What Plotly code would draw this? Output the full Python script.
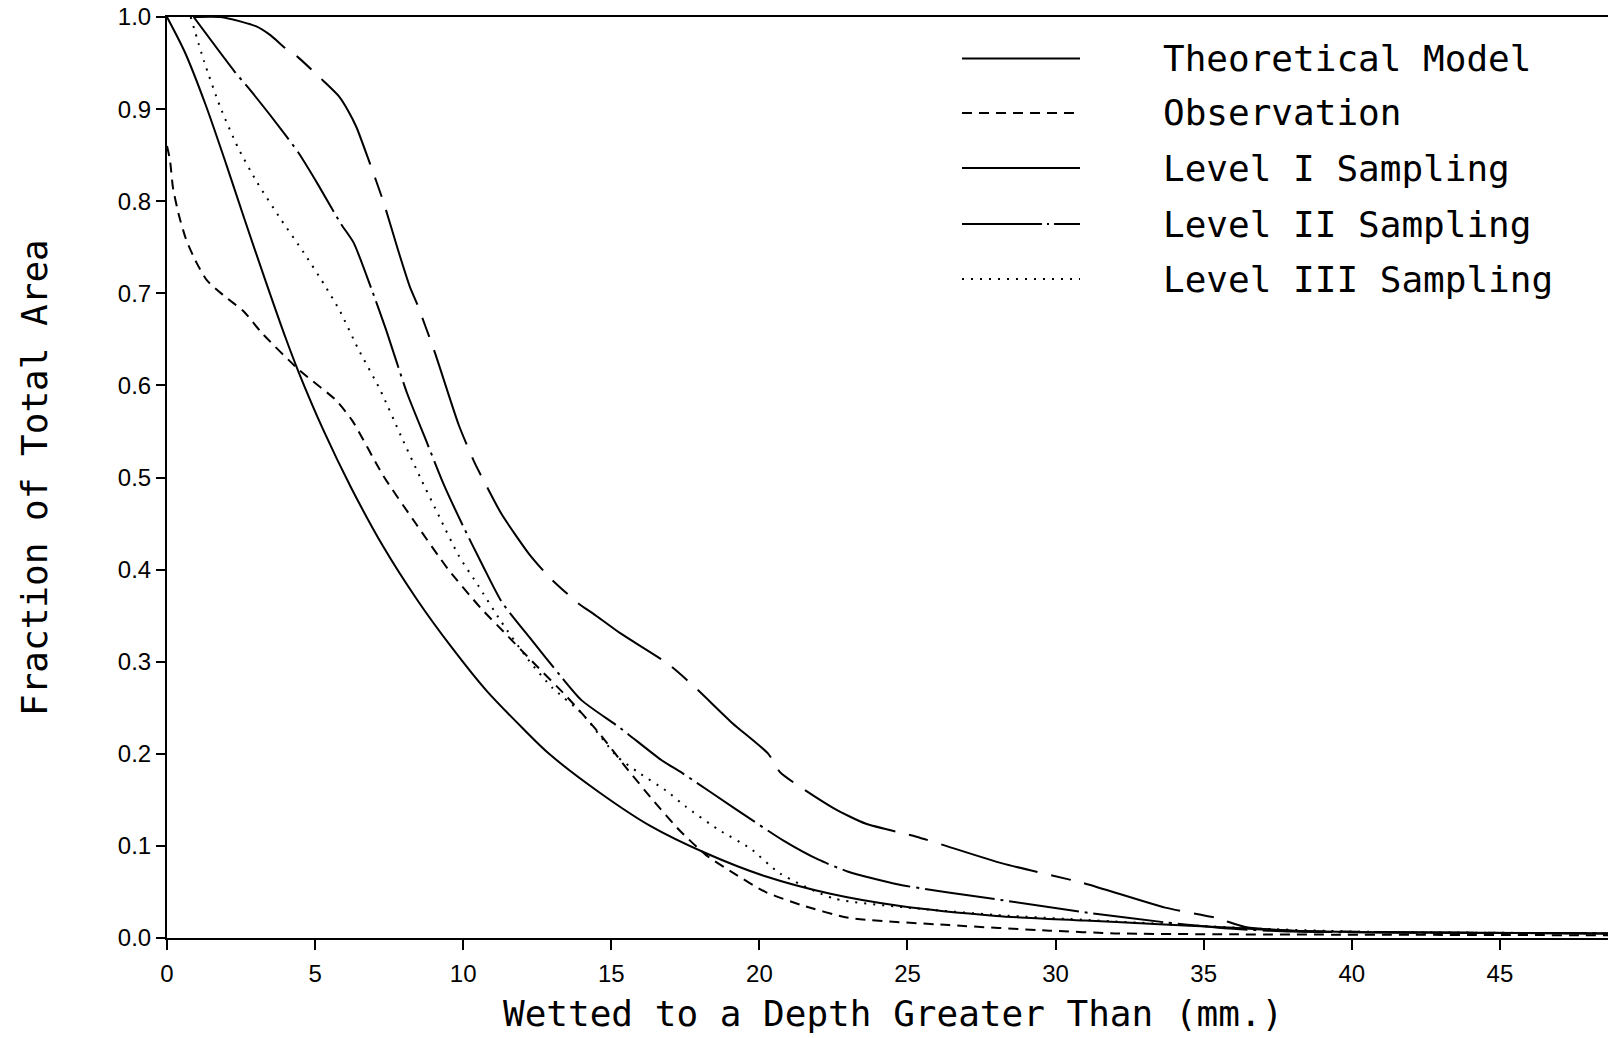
import plotly.graph_objects as go

# ---------------- data ----------------
theory_x = [0, 0.6, 1.3, 2.0, 2.6, 3.3, 4.0, 4.45, 5.3, 6.2, 7.3, 8.45, 9.6, 10.8, 12.0,
            12.9, 14.6, 16.3, 18.2, 20.2, 22.4, 24.7, 28.0, 31.0, 33.5, 36.0, 38.0, 42.0, 48.65]
theory_y = [1.0, 0.962, 0.905, 0.84, 0.782, 0.716, 0.652, 0.614, 0.55, 0.49, 0.425, 0.367,
            0.316, 0.268, 0.228, 0.2, 0.158, 0.122, 0.092, 0.067, 0.048, 0.035, 0.024, 0.019,
            0.015, 0.011, 0.008, 0.006, 0.005]

obs_x = [0, 0.1, 0.2, 0.4, 0.65, 1.0, 1.35, 1.9, 2.6, 3.2, 4.45, 5.7, 6.25, 7.3, 8.4, 9.5,
         10.6, 11.5, 12.4, 13.5, 14.6, 15.5, 16.4, 17.3, 18.2, 19.1, 20.2, 21.4, 23.0, 26.4,
         29.8, 32.0, 36.0, 48.65]
obs_y = [0.86, 0.845, 0.815, 0.785, 0.758, 0.733, 0.714, 0.698, 0.68, 0.657, 0.617, 0.584,
         0.562, 0.502, 0.45, 0.40, 0.358, 0.328, 0.298, 0.262, 0.222, 0.185, 0.15, 0.117,
         0.09, 0.071, 0.05, 0.036, 0.022, 0.014, 0.008, 0.005, 0.004, 0.003]

lev1_x = [0.9, 1.8, 2.5, 3.0, 3.5, 4.0, 4.4, 5.3, 5.8, 6.1, 6.4, 6.85, 7.3, 7.8, 8.2, 8.45,
          9.05, 9.85, 10.4, 10.8, 11.3, 12.2, 12.9, 13.9, 14.4, 15.3, 16.9, 17.8, 19.1, 20.3,
          20.7, 22.5, 23.6, 25.3, 28.2, 30.9, 33.7, 35.4, 36.4, 38.0, 48.65]
lev1_y = [1.0, 1.0, 0.995, 0.99, 0.98, 0.966, 0.957, 0.93, 0.914, 0.899, 0.88, 0.841, 0.80,
          0.747, 0.707, 0.688, 0.635, 0.557, 0.515, 0.49, 0.46, 0.418, 0.392, 0.363, 0.352,
          0.331, 0.298, 0.273, 0.233, 0.20, 0.18, 0.141, 0.124, 0.11, 0.081, 0.06, 0.033,
          0.022, 0.012, 0.008, 0.005]

lev2_x = [0.9, 2.3, 2.75, 3.95, 4.45, 5.1, 5.86, 6.3, 6.9, 7.4, 8.1, 8.75, 9.35, 10.0, 10.65,
          11.3, 12.3, 13.3, 14.0, 15.3, 16.7, 17.4, 19.2, 20.8, 22.0, 23.0, 24.7, 28.0, 31.2,
          33.7, 36.0, 38.0, 48.65]
lev2_y = [1.0, 0.94, 0.923, 0.874, 0.852, 0.818, 0.776, 0.755, 0.705, 0.66, 0.592, 0.54,
          0.492, 0.447, 0.405, 0.365, 0.324, 0.284, 0.258, 0.228, 0.193, 0.179, 0.14, 0.106,
          0.085, 0.072, 0.058, 0.042, 0.027, 0.017, 0.01, 0.007, 0.005]

lev3_x = [0.8, 1.25, 1.8, 2.4, 3.05, 3.85, 4.6, 5.3, 5.85, 6.45, 7.2, 7.9, 8.55, 9.2, 9.85,
          10.5, 11.25, 12.2, 13.0, 14.0, 15.2, 15.95, 16.85, 17.5, 18.6, 19.7, 20.7, 22.5,
          25.0, 28.0, 32.0, 35.0, 37.0, 40.0, 48.65]
lev3_y = [1.0, 0.952, 0.902, 0.858, 0.82, 0.78, 0.745, 0.71, 0.68, 0.64, 0.595, 0.545,
          0.50, 0.457, 0.415, 0.383, 0.345, 0.302, 0.272, 0.244, 0.197, 0.179, 0.16, 0.143,
          0.118, 0.097, 0.07, 0.043, 0.033, 0.025, 0.018, 0.013, 0.01, 0.007, 0.005]

series_names = ["Theoretical Model", "Observation", "Level I Sampling",
                "Level II Sampling", "Level III Sampling"]
series_x = [theory_x, obs_x, lev1_x, lev2_x, lev3_x]
series_y = [theory_y, obs_y, lev1_y, lev2_y, lev3_y]

x_ticks = [0, 5, 10, 15, 20, 25, 30, 35, 40, 45]
y_ticks = [0.0, 0.1, 0.2, 0.3, 0.4, 0.5, 0.6, 0.7, 0.8, 0.9, 1.0]

x_title = "Wetted to a Depth Greater Than (mm.)"
y_title = "Fraction of Total Area"

# ---------------- styles ----------------
dashes = ["solid", "10px,7px", "100px,14px,20px,14px", "70px,6px,3px,6px", "2px,7px"]
legend_dashes = ["solid", "10px,7px", "solid", "80px,5px,2px,5px", "2px,7px"]
smooth = [0.8, 0.6, 0.6, 0.6, 0.6]
FONT = "DejaVu Sans Mono"
TICKFONT = "Liberation Sans"

fig = go.Figure()
for name, xs, ys, d, s in zip(series_names, series_x, series_y, dashes, smooth):
    fig.add_trace(go.Scatter(x=xs, y=ys, mode="lines", name=name, showlegend=False,
                             line=dict(color="black", width=2, dash=d, shape="spline",
                                       smoothing=s)))

# manual legend (long sample lines like the original plotter legend)
leg_y = [0.9549, 0.8958, 0.8360, 0.7752, 0.7155]
shapes = []
annotations = []
for name, d, yy in zip(series_names, legend_dashes, leg_y):
    shapes.append(dict(type="line", xref="paper", yref="paper", x0=0.5517, x1=0.6336,
                       y0=yy, y1=yy, line=dict(color="black", width=2, dash=d)))
    annotations.append(dict(text=name, xref="paper", yref="paper", x=0.6898, y=yy,
                            xanchor="left", yanchor="middle", showarrow=False,
                            font=dict(family=FONT, size=36, color="black")))

annotations.append(dict(text=x_title, xref="paper", yref="paper", x=0.504, y=-0.0825,
                        xanchor="center", yanchor="middle", showarrow=False,
                        font=dict(family=FONT, size=36, color="black")))
annotations.append(dict(text=y_title, xref="paper", yref="paper", x=-0.0923, y=0.5005,
                        xanchor="center", yanchor="middle", showarrow=False, textangle=-90,
                        font=dict(family=FONT, size=36, color="black")))

fig.update_layout(
    width=1608, height=1038,
    margin=dict(l=167, r=0, t=17, b=100),
    paper_bgcolor="white", plot_bgcolor="white",
    showlegend=False,
    shapes=shapes, annotations=annotations,
    font=dict(family=FONT, color="black"),
)
fig.update_xaxes(range=[0, 48.65], tickvals=x_ticks, ticktext=[str(v) for v in x_ticks],
                 ticks="outside", ticklen=10, tickwidth=2, tickcolor="black",
                 showline=True, linecolor="black", linewidth=2, mirror=True,
                 showgrid=False, zeroline=False, ticklabelstandoff=3,
                 tickfont=dict(family=TICKFONT, size=24, color="black"))
fig.update_yaxes(range=[0, 1], tickvals=y_ticks, ticktext=[f"{v:.1f}" for v in y_ticks],
                 ticks="outside", ticklen=9, tickwidth=2, tickcolor="black",
                 showline=True, linecolor="black", linewidth=2,
                 showgrid=False, zeroline=False,
                 tickfont=dict(family=TICKFONT, size=24, color="black"))

fig.write_html("out.html")
